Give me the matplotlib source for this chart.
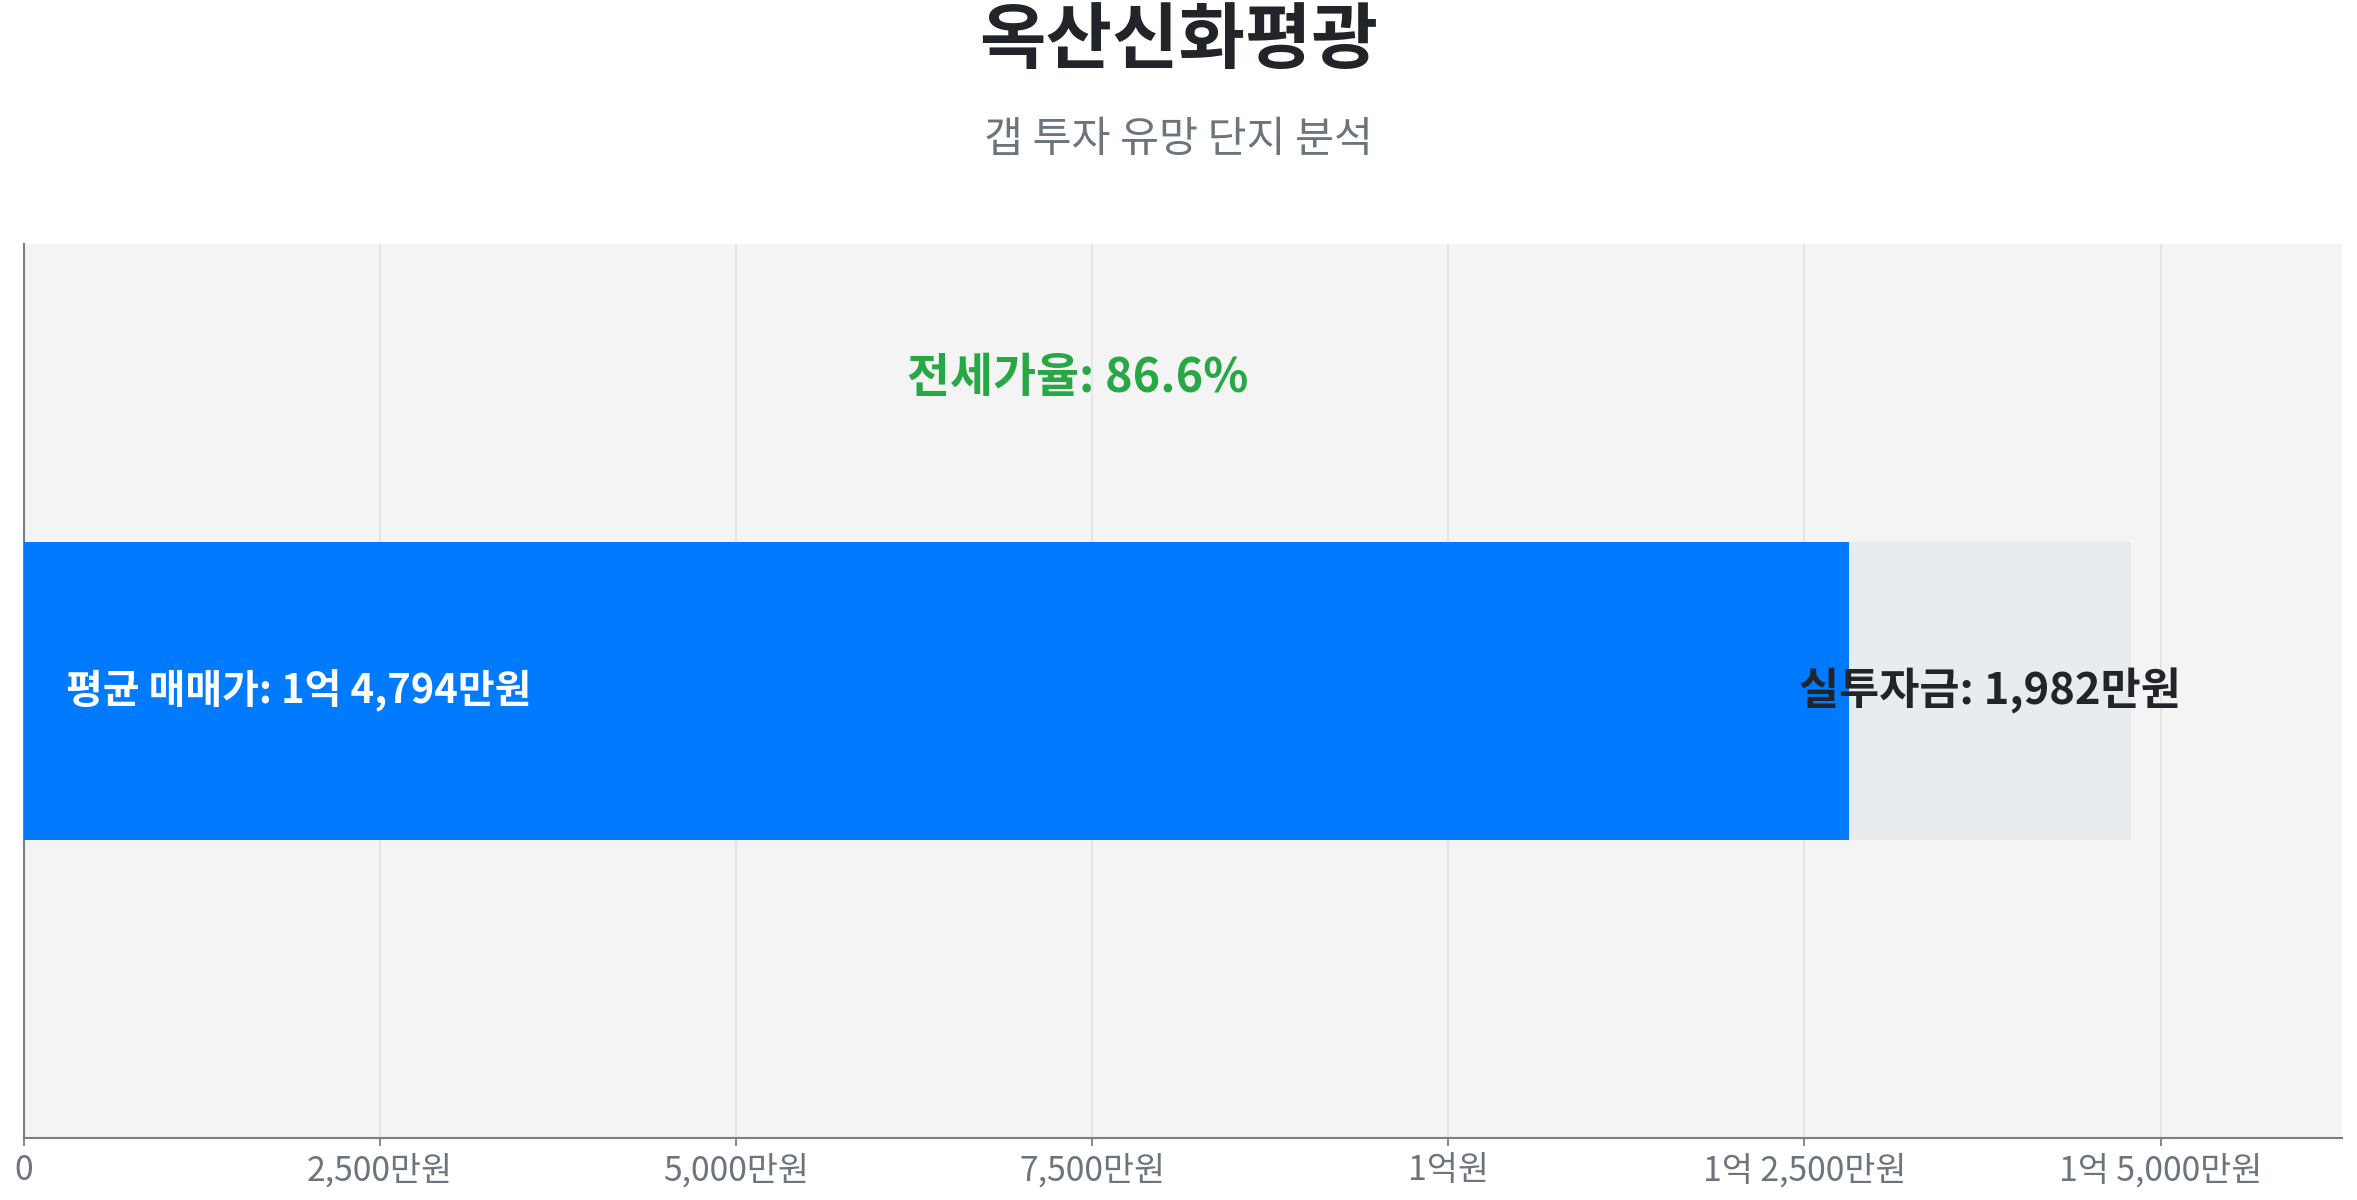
import matplotlib.pyplot as plt
from matplotlib.ticker import FuncFormatter, MultipleLocator

plt.rcParams['font.family'] = ['Noto Sans CJK KR', 'DejaVu Sans']

# values in 만원
complex_name = '옥산신화평광'
subtitle = '갭 투자 유망 단지 분석'
avg_price = [14794]
invest_gap = [1982]
jeonse_ratio = 86.6
jeonse_price = [p - g for p, g in zip(avg_price, invest_gap)]

BLUE = '#007bff'
GAP_GRAY = '#e9ecef'
DARK = '#212529'
MUTED = '#6c757d'
GREEN = '#28a745'


def won(v):
    v = int(round(v))
    if v == 0:
        return '0'
    eok, man = divmod(v, 10000)
    if eok and man:
        return f'{eok}억 {man:,}만원'
    if eok:
        return f'{eok}억원'
    return f'{man:,}만원'


fig = plt.figure(figsize=(23.57, 12), dpi=100)
ax = fig.add_axes([0.0102, 0.0517, 0.9834, 0.7453])
ax.set_facecolor('#f4f4f4')

y = [0]
ax.barh(y, avg_price, height=1, color=GAP_GRAY, zorder=2)
ax.barh(y, jeonse_price, height=1, color=BLUE, zorder=3)

xmax = max(avg_price) * 1.1
ax.set_xlim(0, xmax)
ax.set_ylim(-1.5, 1.5)

ax.text(xmax * 0.02 / 1.1, 0, f'평균 매매가: {won(avg_price[0])}', color='white',
        fontsize=28.8, fontweight='bold', va='center', ha='left', zorder=4)
ax.text(jeonse_price[0] + invest_gap[0] / 2, 0, f'실투자금: {won(invest_gap[0])}',
        color=DARK, fontsize=31.4, fontweight='bold', va='center', ha='center', zorder=4)
ax.text(avg_price[0] / 2, 1.05, f'전세가율: {jeonse_ratio}%', color=GREEN,
        fontsize=33.7, fontweight='bold', va='center', ha='center', zorder=4)

ax.xaxis.set_major_locator(MultipleLocator(2500))
ax.xaxis.set_major_formatter(FuncFormatter(lambda v, p: won(v)))
ax.set_yticks([])
ax.grid(axis='x', color='#e2e2e2', linewidth=1.2, zorder=0)
ax.set_axisbelow(True)
ax.tick_params(axis='x', labelsize=24.3, colors=MUTED, length=6, width=1.2, pad=5)
for side in ['top', 'right']:
    ax.spines[side].set_visible(False)
for side in ['left', 'bottom']:
    ax.spines[side].set_color('#7a7f85')
    ax.spines[side].set_linewidth(1.5)

fig.text(0.5, 0.965, complex_name, ha='center', va='center', fontsize=52,
         fontweight='bold', color=DARK)
fig.text(0.5, 0.883, subtitle, ha='center', va='center', fontsize=30.5, color=MUTED)

fig.savefig('out.png', dpi=100, facecolor='white')
